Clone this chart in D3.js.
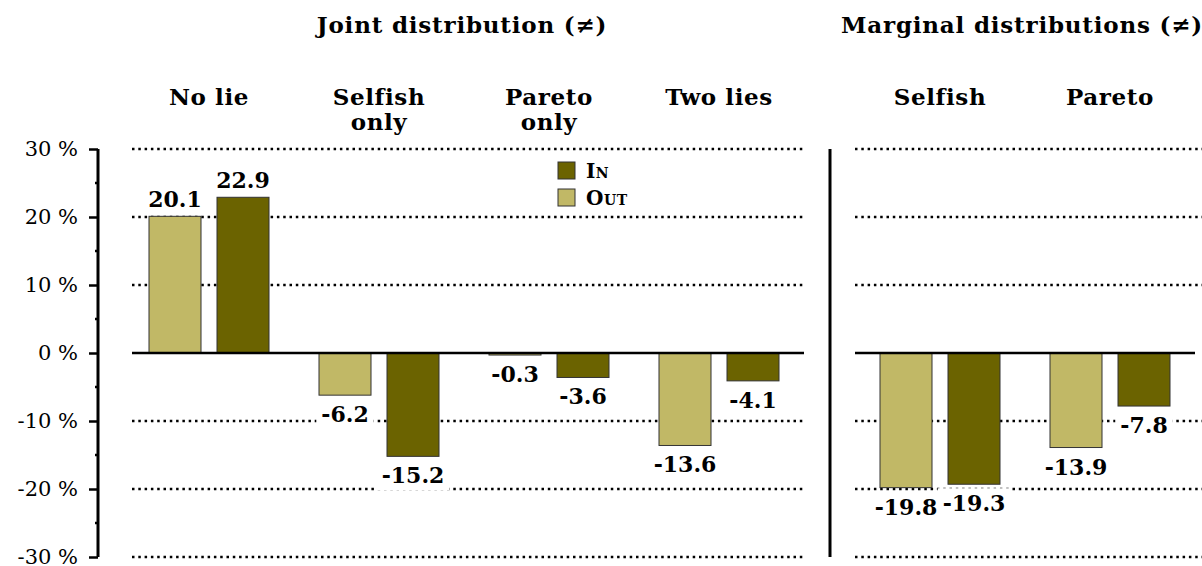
<!DOCTYPE html>
<html><head><meta charset="utf-8">
<script src="https://cdn.jsdelivr.net/npm/d3@7"></script>
<style>
html,body{margin:0;padding:0;background:#fff;}
svg{display:block;}
text{font-family:"DejaVu Serif",serif;fill:#000;}
</style></head>
<body>
<svg id="c" width="1202" height="566"></svg>
<script>
const panelTitles = ["Joint distribution (\u2260)", "Marginal distributions (\u2260)"];
const jointCategories = [["No lie"], ["Selfish", "only"], ["Pareto", "only"], ["Two lies"]];
const marginalCategories = [["Selfish"], ["Pareto"]];
const seriesNames = ["Out", "In"];
const jointOut = [20.1, -6.2, -0.3, -13.6];
const jointIn = [22.9, -15.2, -3.6, -4.1];
const marginalOut = [-19.8, -13.9];
const marginalIn = [-19.3, -7.8];
const yTicks = [-30, -20, -10, 0, 10, 20, 30];
const yMinorTicks = [-25, -15, -5, 5, 15, 25];
const legendOrder = ["In", "Out"];

const colors = {Out: "#c1b866", In: "#6b6300"};
const svg = d3.select("#c");
const y = d3.scaleLinear().domain([-30, 30]).range([557, 149]);

// Y axis
const axisG = svg.append("g").attr("transform", "translate(98,0)");
axisG.call(d3.axisLeft(y).tickValues(yTicks).tickSize(9).tickPadding(11).tickFormat(d => d + " %"));
axisG.select(".domain").attr("stroke", "#000").attr("stroke-width", 3).attr("d", `M0,${y(30)}V${y(-30)}`);
axisG.selectAll(".tick line").attr("stroke", "#000").attr("stroke-width", 2.5);
axisG.selectAll(".tick text").attr("font-size", 21).attr("font-family", "DejaVu Serif").attr("fill", "#000");
axisG.selectAll(".minor").data(yMinorTicks).enter().append("line")
  .attr("x1", -3).attr("x2", 0).attr("y1", d => y(d)).attr("y2", d => y(d))
  .attr("stroke", "#000").attr("stroke-width", 2.5);

function panel(cats, outVals, inVals, x0, x1, gridX0, gridX1, zeroX0, zeroX1, title, titleX) {
  const names = cats.map(c => c.join(" "));
  const xg = d3.scaleBand().domain(names).range([x0, x1]);
  const xi = d3.scaleBand().domain(seriesNames).range([25, 145]).paddingInner(16 / 68);
  const g = svg.append("g");
  // grid
  g.selectAll(".grid").data(yTicks.filter(t => t !== 0)).enter().append("line")
    .attr("x1", gridX0).attr("x2", gridX1).attr("y1", d => y(d)).attr("y2", d => y(d))
    .attr("stroke", "#000").attr("stroke-width", 2.5).attr("stroke-dasharray", "2.5,3.8");
  const rows = [];
  names.forEach((n, i) => {
    rows.push({cat: n, s: "Out", v: outVals[i]});
    rows.push({cat: n, s: "In", v: inVals[i]});
  });
  // bars
  g.selectAll(".bar").data(rows).enter().append("rect")
    .attr("x", d => xg(d.cat) + xi(d.s)).attr("width", xi.bandwidth())
    .attr("y", d => Math.min(y(0), y(d.v))).attr("height", d => Math.abs(y(d.v) - y(0)))
    .attr("fill", d => colors[d.s]).attr("stroke", "#333").attr("stroke-width", 1);
  // zero line
  g.append("line").attr("x1", zeroX0).attr("x2", zeroX1).attr("y1", y(0)).attr("y2", y(0))
    .attr("stroke", "#000").attr("stroke-width", 2.5);
  // value labels
  const lab = g.selectAll(".lab").data(rows).enter().append("g");
  lab.each(function(d) {
    const cx = xg(d.cat) + xi(d.s) + xi.bandwidth() / 2;
    const by = d.v >= 0 ? y(d.v) - 9 : y(d.v) + 27;
    const sel = d3.select(this);
    const r = sel.append("rect").attr("fill", "#fff");
    const t = sel.append("text").attr("x", cx).attr("y", by).attr("text-anchor", "middle")
      .attr("font-weight", "bold").attr("font-size", 22).text(d.v.toFixed(1));
    const bb = t.node().getBBox();
    r.attr("x", bb.x - 5).attr("y", bb.y - 2).attr("width", bb.width + 10).attr("height", bb.height + 4);
  });
  // category labels
  cats.forEach((c, i) => {
    const t = g.append("text").attr("x", xg(names[i]) + xg.bandwidth() / 2).attr("y", 105)
      .attr("text-anchor", "middle").attr("font-weight", "bold").attr("font-size", 23)
      .attr("letter-spacing", 0.6);
    c.forEach((line, k) => t.append("tspan").attr("x", xg(names[i]) + xg.bandwidth() / 2)
      .attr("dy", k === 0 ? 0 : 25).text(line));
  });
  g.append("text").attr("x", titleX).attr("y", 33).attr("text-anchor", "middle")
    .attr("font-weight", "bold").attr("font-size", 23).attr("letter-spacing", 0.8).text(title);
}

panel(jointCategories, jointOut, jointIn, 124, 804, 132, 805, 132, 804, panelTitles[0], 462);
panel(marginalCategories, marginalOut, marginalIn, 855, 1195, 855, 1202, 855, 1195, panelTitles[1], 1022);

// separator
svg.append("line").attr("x1", 830).attr("x2", 830).attr("y1", y(30)).attr("y2", y(-30))
  .attr("stroke", "#000").attr("stroke-width", 3);

// legend
const leg = svg.append("g");
legendOrder.forEach((s, i) => {
  leg.append("rect").attr("x", 558).attr("y", 162 + i * 27).attr("width", 17).attr("height", 17)
    .attr("fill", colors[s]).attr("stroke", "#333").attr("stroke-width", 1);
  leg.append("text").attr("x", 586).attr("y", 178 + i * 27).attr("font-weight", "bold")
    .attr("font-size", 20).attr("letter-spacing", 0.5).style("font-variant", "small-caps").text(s);
});
</script>
</body></html>
